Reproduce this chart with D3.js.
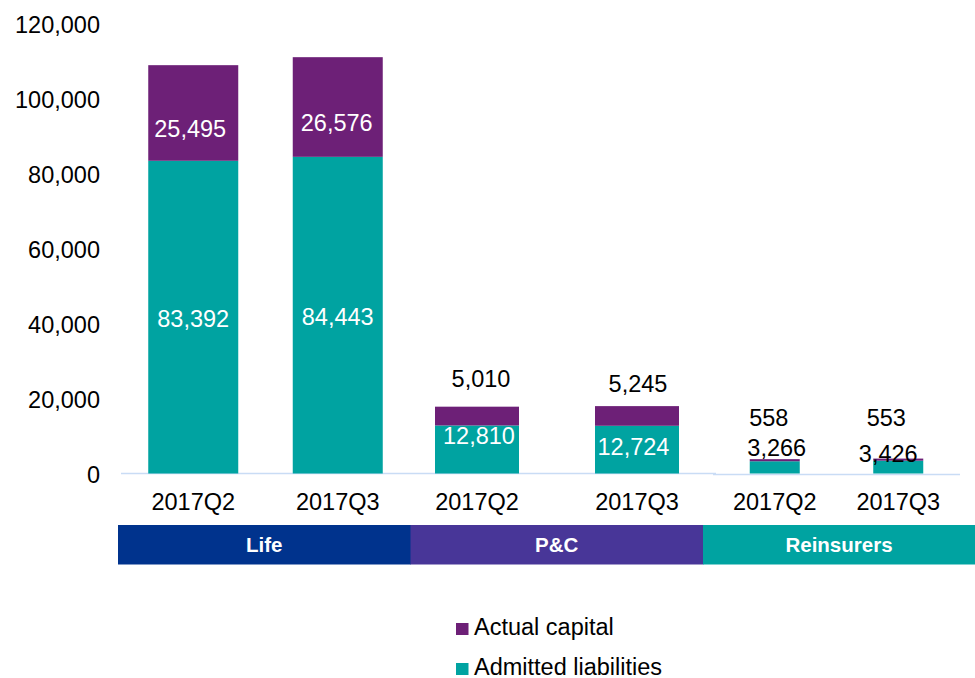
<!DOCTYPE html>
<html>
<head>
<meta charset="utf-8">
<script src="https://cdn.jsdelivr.net/npm/d3@7"></script>
<style>
  html, body { margin: 0; padding: 0; background: #ffffff; }
  svg { display: block; font-family: "Liberation Sans", Arial, sans-serif; }
</style>
</head>
<body>
<svg id="chart" width="975" height="678"></svg>
<script>
// ---- data ----
const groups = ["Life", "P&C", "Reinsurers"];
const quarters = ["2017Q2", "2017Q3"];
// values per group, in quarter order
const admittedLiabilities = [[83392, 84443], [12810, 12724], [3266, 3426]];
const actualCapital = [[25495, 26576], [5010, 5245], [558, 553]];
const yTicks = [0, 20000, 40000, 60000, 80000, 100000, 120000];
const seriesNames = ["Actual capital", "Admitted liabilities"];

// ---- layout & styles ----
const W = 975, H = 678;
const colors = { capital: "#6D2077", admitted: "#00A3A1" };
const bandColors = ["#00338D", "#483698", "#00A3A1"];
const FONT = 23.5;
// each group is its own panel along the baseline
const panels = [
  { range: [121, 410], barWidth: 90, baseline: [121, 716], by: 473.5 },
  { range: [397, 717], barWidth: 84, baseline: null, by: 473.5 },
  { range: [713, 960], barWidth: 50, baseline: [713, 960], by: 474.5 }
];
const bandRange = [118, 995.5];
// label placement: anchor "mid" = middle of its segment, "top" = top of the stack; plus pixel nudge
const labelPlacement = [
  { capital: ["mid", -3, 15.5, "#fff"], admitted: ["mid", 0, 2, "#fff"] },
  { capital: ["mid", -1, 15.5, "#fff"], admitted: ["mid", 0, 2, "#fff"] },
  { capital: ["top", 4, -28.4, "#000"], admitted: ["mid", 2, -14, "#fff"] },
  { capital: ["top", 1, -22.8, "#000"], admitted: ["mid", -3.5, -2.5, "#fff"] },
  { capital: ["top", -6, -41.7, "#000"], admitted: ["top", 2, -11, "#000"] },
  { capital: ["top", -12, -41, "#000"], admitted: ["top", -10, -5, "#000"] }
];

const svg = d3.select("#chart");
const fmt = d3.format(",");

const y = d3.scaleLinear().domain([0, 120000]).range([473.5, 23.5]);

// y axis labels (no line, no ticks)
const yAxis = svg.append("g")
  .attr("transform", "translate(100,1)")
  .call(d3.axisLeft(y).tickValues(yTicks).tickFormat(fmt).tickSize(0).tickPadding(0));
yAxis.select(".domain").remove();
yAxis.selectAll("text")
  .attr("font-size", FONT)
  .attr("font-family", "Liberation Sans, Arial, sans-serif")
  .attr("fill", "#000");

// flat records for stacking
const rows = [];
groups.forEach((g, gi) => quarters.forEach((q, qi) => {
  rows.push({ group: g, gi, quarter: q, admitted: admittedLiabilities[gi][qi], capital: actualCapital[gi][qi] });
}));
const stack = d3.stack().keys(["admitted", "capital"]);
const stacked = stack(rows);

// x scales per panel
const xScales = panels.map(p => d3.scalePoint().domain(quarters).range(p.range).padding(0.5));
const xCenter = r => xScales[r.gi](r.quarter);

// baselines
panels.forEach(p => {
  if (!p.baseline) return;
  svg.append("line")
    .attr("x1", p.baseline[0]).attr("x2", p.baseline[1])
    .attr("y1", p.by).attr("y2", p.by)
    .attr("stroke", "#C9DCF5").attr("stroke-width", 1.6);
});

// bars
stacked.forEach(layer => {
  svg.append("g").selectAll("rect")
    .data(layer)
    .join("rect")
    .attr("x", d => xCenter(d.data) - panels[d.data.gi].barWidth / 2)
    .attr("width", d => panels[d.data.gi].barWidth)
    .attr("y", d => y(d[1]))
    .attr("height", d => y(d[0]) - y(d[1]))
    .attr("fill", colors[layer.key]);
});

// value labels
stacked.forEach(layer => {
  svg.append("g").selectAll("text")
    .data(layer)
    .join("text")
    .each(function (d, i) {
      const [anchor, dx, dy, fill] = labelPlacement[i][layer.key];
      const r = d.data;
      const top = y(r.admitted + r.capital);
      const base = anchor === "mid" ? y((d[0] + d[1]) / 2) : top;
      d3.select(this)
        .attr("x", xCenter(r) + dx)
        .attr("y", base + dy)
        .attr("dy", "0.35em")
        .attr("text-anchor", "middle")
        .attr("font-size", FONT)
        .attr("fill", fill)
        .text(fmt(r[layer.key]));
    });
});

// quarter labels
svg.append("g").selectAll("text")
  .data(rows)
  .join("text")
  .attr("x", d => xCenter(d))
  .attr("y", 510)
  .attr("text-anchor", "middle")
  .attr("font-size", FONT)
  .attr("fill", "#000")
  .text(d => d.quarter);

// group bands
const xBand = d3.scaleBand().domain(groups).range(bandRange).padding(0);
const bands = svg.append("g");
bands.selectAll("rect")
  .data(groups)
  .join("rect")
  .attr("x", d => xBand(d))
  .attr("y", 525)
  .attr("width", xBand.bandwidth() + 0.5)
  .attr("height", 39.5)
  .attr("fill", (d, i) => bandColors[i]);
bands.selectAll("text")
  .data(groups)
  .join("text")
  .attr("x", d => Math.min(xBand(d) + xBand.bandwidth() / 2, (xBand(d) + W) / 2))
  .attr("y", 551.7)
  .attr("text-anchor", "middle")
  .attr("font-size", 20.5)
  .attr("font-weight", "bold")
  .attr("fill", "#fff")
  .text(d => d);

// legend
const legend = svg.append("g").attr("transform", "translate(456,623)");
const legendKeys = ["capital", "admitted"];
legendKeys.forEach((k, i) => {
  const g = legend.append("g").attr("transform", `translate(0,${i * 40})`);
  g.append("rect").attr("width", 12.5).attr("height", 12).attr("fill", colors[k]);
  g.append("text")
    .attr("x", 18).attr("y", 12)
    .attr("font-size", FONT)
    .attr("fill", "#000")
    .text(seriesNames[i]);
});
</script>
</body>
</html>
